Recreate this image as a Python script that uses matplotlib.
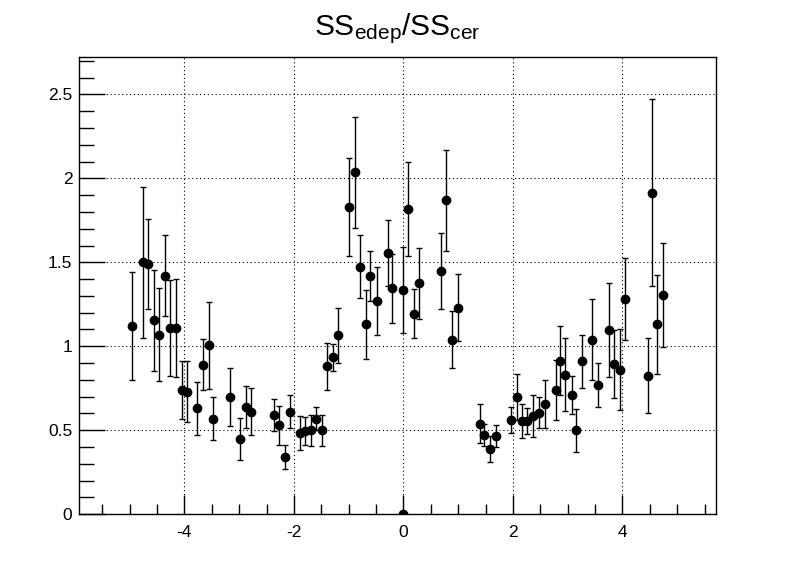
import numpy as np
import matplotlib
matplotlib.use("Agg")
import matplotlib.pyplot as plt
from matplotlib.ticker import MultipleLocator

plt.rcParams['font.family'] = ['Liberation Sans', 'DejaVu Sans']
plt.rcParams['mathtext.fontset'] = 'custom'
plt.rcParams['mathtext.rm'] = 'Liberation Sans'
plt.rcParams['mathtext.it'] = 'Liberation Sans'
plt.rcParams['axes.unicode_minus'] = False

# 数据
x_vals = [-4.95, -4.75, -4.66, -4.55, -4.46, -4.35, -4.26, -4.16, -4.05, -3.96,
          -3.77, -3.66, -3.56, -3.47, -3.16, -2.98, -2.87, -2.78, -2.37, -2.28,
          -2.17, -2.08, -1.88, -1.79, -1.69, -1.59, -1.48, -1.39, -1.28, -1.19,
          -0.99, -0.89, -0.79, -0.69, -0.61, -0.49, -0.29, -0.20, 0.00, 0.00,
          0.09, 0.20, 0.29, 0.69, 0.78, 0.89, 0.99, 1.39, 1.48, 1.58,
          1.69, 1.97, 2.08, 2.17, 2.26, 2.37, 2.47, 2.58, 2.78, 2.86,
          2.95, 3.07, 3.16, 3.27, 3.45, 3.56, 3.76, 3.85, 3.96, 4.05,
          4.46, 4.54, 4.64, 4.74]
y_vals = [1.12, 1.50, 1.49, 1.155, 1.07, 1.42, 1.11, 1.11, 0.74, 0.73,
          0.63, 0.89, 1.005, 0.57, 0.70, 0.45, 0.64, 0.61, 0.59, 0.53,
          0.34, 0.61, 0.485, 0.495, 0.50, 0.57, 0.50, 0.88, 0.935, 1.065,
          1.83, 2.035, 1.475, 1.13, 1.42, 1.27, 1.555, 1.345, 1.335, 0.0,
          1.815, 1.195, 1.375, 1.45, 1.87, 1.04, 1.23, 0.54, 0.47, 0.39,
          0.465, 0.56, 0.70, 0.555, 0.555, 0.585, 0.605, 0.655, 0.74, 0.915,
          0.83, 0.71, 0.50, 0.91, 1.04, 0.77, 1.095, 0.895, 0.86, 1.28,
          0.825, 1.915, 1.13, 1.305]
y_errs = [0.32, 0.45, 0.27, 0.30, 0.275, 0.24, 0.287, 0.29, 0.175, 0.18,
          0.16, 0.152, 0.26, 0.128, 0.172, 0.124, 0.126, 0.139, 0.094, 0.116,
          0.072, 0.098, 0.102, 0.083, 0.094, 0.07, 0.092, 0.142, 0.08, 0.163,
          0.29, 0.33, 0.19, 0.207, 0.15, 0.20, 0.197, 0.204, 0.258, 0.0,
          0.28, 0.145, 0.21, 0.226, 0.30, 0.17, 0.20, 0.116, 0.066, 0.078,
          0.065, 0.077, 0.136, 0.10, 0.08, 0.126, 0.092, 0.143, 0.18, 0.207,
          0.218, 0.114, 0.127, 0.157, 0.24, 0.13, 0.28, 0.20, 0.24, 0.244,
          0.222, 0.555, 0.295, 0.31]

fig = plt.figure(figsize=(7.96, 5.72), dpi=100)
ax = fig.add_axes([0.0996, 0.1009, 0.80, 0.80])

ax.errorbar(x_vals, y_vals, yerr=y_errs, fmt='o', color='black', markersize=6,
            ecolor='black', elinewidth=1, capsize=2.5, capthick=1)

ax.set_xlim(-5.92, 5.71)
ax.set_ylim(0, 2.724)

ax.xaxis.set_major_locator(MultipleLocator(2))
ax.xaxis.set_minor_locator(MultipleLocator(0.5))
ax.yaxis.set_major_locator(MultipleLocator(0.5))
ax.yaxis.set_minor_locator(MultipleLocator(0.1))
ax.yaxis.set_major_formatter(plt.FuncFormatter(lambda v, p: '0' if v == 0 else ('%g' % v)))

ax.tick_params(axis='both', which='both', direction='in', top=False, right=False,
               labelsize=12.5, width=1, color='black')
ax.tick_params(axis='x', which='major', length=13.5, pad=8)
ax.tick_params(axis='x', which='minor', length=7.5)
ax.tick_params(axis='y', which='major', length=19, pad=5)
ax.tick_params(axis='y', which='minor', length=10.5)

ax.grid(True, which='major', color='black', linestyle=(0, (1, 2.5)), linewidth=0.8)
for s in ax.spines.values():
    s.set_linewidth(1)

fig.text(0.4995, 0.95, r'SS$_{\mathrm{edep}}$/SS$_{\mathrm{cer}}$', ha='center', va='center',
         fontsize=21.5)

fig.savefig('out.png', dpi=100)
